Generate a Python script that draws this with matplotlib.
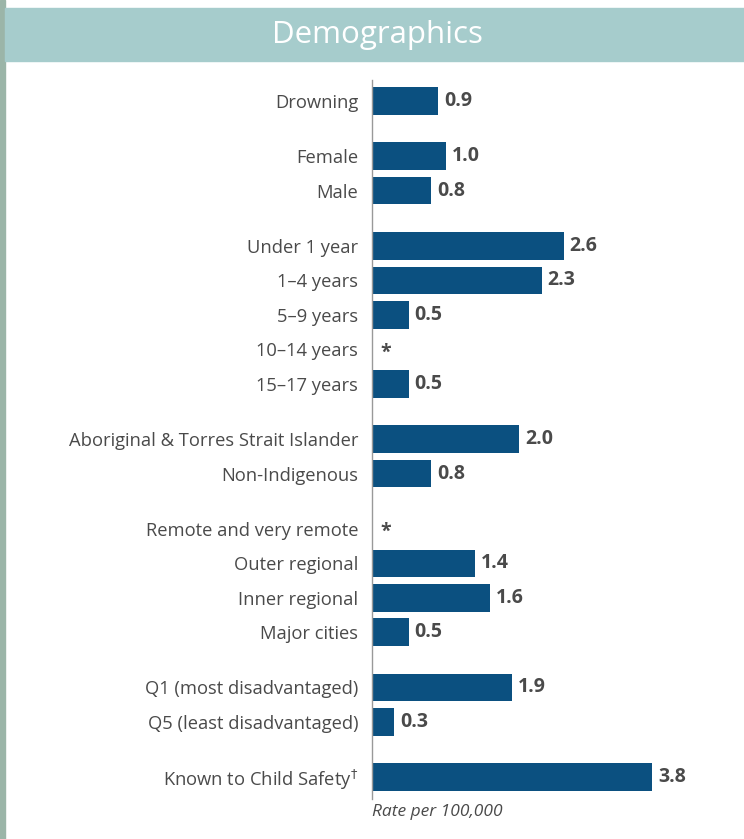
import matplotlib.pyplot as plt
import numpy as np

categories = ["Drowning", "Female", "Male", "Under 1 year", "1\u20134 years", "5\u20139 years",
              "10\u201314 years", "15\u201317 years", "Aboriginal & Torres Strait Islander",
              "Non-Indigenous", "Remote and very remote", "Outer regional", "Inner regional",
              "Major cities", "Q1 (most disadvantaged)", "Q5 (least disadvantaged)",
              "Known to Child Safety$^{\\dagger}$"]
values = [0.9, 1.0, 0.8, 2.6, 2.3, 0.5, None, 0.5, 2.0, 0.8, None, 1.4, 1.6, 0.5, 1.9, 0.3, 3.8]
groups = [0, 1, 1, 2, 2, 2, 2, 2, 3, 3, 4, 4, 4, 4, 5, 5, 6]

bar_color = "#0b5080"
text_color = "#4a4a4a"
plt.rcParams['font.family'] = ['Open Sans', 'DejaVu Sans']

# row positions: one unit per row, extra 0.6 between groups
pos = []
y = 0.0
for i, g in enumerate(groups):
    if i > 0:
        y += 1.0 + (0.6 if g != groups[i-1] else 0)
    pos.append(y)
pos = np.array(pos)

fig = plt.figure(figsize=(7.44, 8.39), dpi=100)
W, H = 744, 839

# side strip and header band
fig.patches.append(plt.Rectangle((0, 0), 5/W, 1, transform=fig.transFigure, color="#9bb5a8", zorder=0))
fig.patches.append(plt.Rectangle((5/W, 1 - 61/H), 1, 53/H, transform=fig.transFigure, color="#a6cccc", zorder=0))
fig.text(377/W, 1 - 35/H, "Demographics", color="white", fontsize=22.5, ha="center", va="center")

row_px = 34.5
top_px = 80
ylim_top = pos[0] - (101 - top_px) / row_px
ylim_bot = pos[-1] + (799 - 777) / row_px
ax_h_px = (ylim_bot - ylim_top) * row_px
ax = fig.add_axes([372/W, 1 - (top_px + ax_h_px)/H, 372/W, ax_h_px/H])

vals = np.array([v if v is not None else 0 for v in values])
ax.barh(pos, vals, height=0.8, color=bar_color)
px_per_unit = 73.7
ax.set_xlim(0, 372/px_per_unit)
ax.set_ylim(ylim_bot, ylim_top)

for p, v in zip(pos, values):
    if v is None:
        ax.text(0.12, p + 0.1, "*", color=text_color, fontsize=14, fontweight="bold", ha="left", va="center")
    else:
        ax.text(v + 0.08, p, "{:.1f}".format(v), color=text_color, fontsize=14, fontweight="bold", ha="left", va="center")

ax.set_yticks(pos)
ax.set_yticklabels(categories, fontsize=13.2, color=text_color)
ax.tick_params(axis="y", length=0, pad=10)
ax.set_xticks([])
for s in ["top", "right", "bottom"]:
    ax.spines[s].set_visible(False)
ax.spines["left"].set_color("#999999")
ax.spines["left"].set_linewidth(1)

fig.text(372/W, 1 - 812/H, "Rate per 100,000", color=text_color, fontsize=12.5, style="italic", ha="left", va="center")

fig.savefig("out.png", dpi=100)
